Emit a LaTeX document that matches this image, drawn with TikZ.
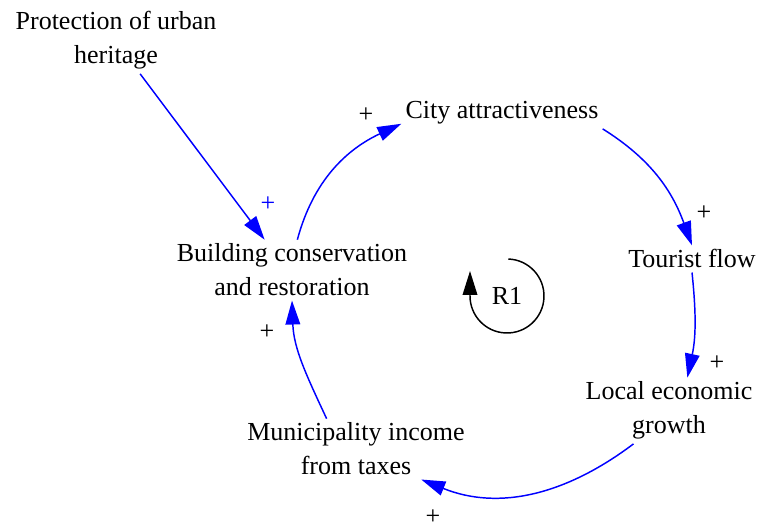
\documentclass[tikz,border=0pt]{standalone}
\usepackage{fontspec}
\setmainfont{Liberation Serif}
\usetikzlibrary{arrows.meta}

\begin{document}
\begin{tikzpicture}[x=0.75pt,y=0.75pt,
    var/.style={align=center,inner sep=3pt,anchor=base,
      font=\fontsize{19.5}{25.5}\selectfont},
    sign/.style={inner sep=0pt,font=\fontsize{19.5}{25.5}\selectfont},
    link/.style={blue,line width=1.1pt,-{Triangle[length=18pt,width=11pt]}}]
    \useasboundingbox (0,0) rectangle (757,524);
    \node[var] (prot) at (116,460) {Protection of urban\\heritage};
    \node[var] (city) at (502,405) {City attractiveness};
    \node[var] (tour) at (692,256) {Tourist flow};
    \node[var] (local) at (669,90) {Local economic\\growth};
    \node[var] (muni) at (356,49) {Municipality income\\from taxes};
    \node[var] (build) at (292,228) {Building conservation\\and restoration};
    \node[sign] (r1) at (507,228) {R1};
    \draw[link] (prot.-54) -- (build.132);
    \draw[link] (build.80) to[out=75,in=205] (city.186);
    \draw[link] (city.south east) to[out=-32,in=110] (tour.north);
    \draw[link] (tour.south) to[out=-84,in=78] (local.61);
    \draw[link] (local.223) to[out=217,in=-22] (muni.-25);
    \draw[link] (muni.134) to[out=115,in=-88] (build.south);
    \node[sign,blue] (s1) at (268,320) {+};
    \node[sign] (s2) at (366,409) {+};
    \node[sign] (s3) at (704,311) {+};
    \node[sign] (s4) at (717,161) {+};
    \node[sign] (s5) at (433,7) {+};
    \node[sign] (s6) at (267,192) {+};
    \draw[line width=1.1pt,-{Triangle[length=18pt,width=11pt]}]
      ([shift={(88:27.75pt)}]r1.center) arc[start angle=88,end angle=-180,radius=27.75pt] -- ++(0,25);
  \end{tikzpicture}
\end{document}
